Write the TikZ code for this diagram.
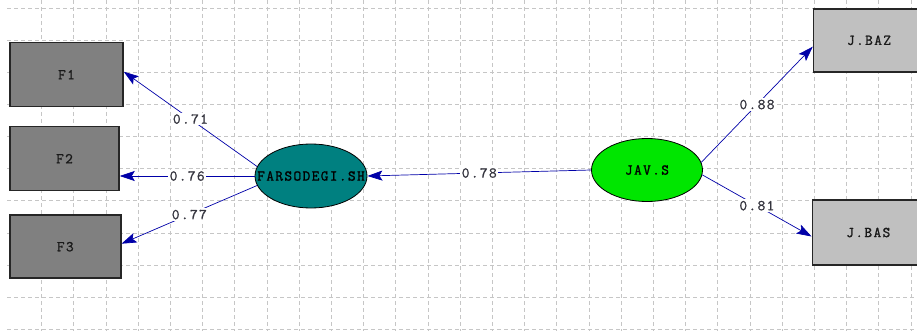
\documentclass[tikz,border=0pt]{standalone}
\usepackage{fontspec}
\newfontfamily\diagmono[LetterSpace=9,FakeBold=1.2]{Latin Modern Mono}
\usetikzlibrary{arrows.meta,shapes.geometric,calc}
\definecolor{gridgray}{HTML}{C6C6C6}
\definecolor{obsdarkfill}{HTML}{808080}
\definecolor{obslightfill}{HTML}{C0C0C0}
\definecolor{latteal}{HTML}{008080}
\definecolor{latgreen}{HTML}{00E600}
\definecolor{pathblue}{HTML}{0000A8}
\definecolor{coefgray}{HTML}{34343E}
\tikzset{
  gridline/.style={draw=gridgray, line width=0.9pt, dash pattern=on 4pt off 3pt},
  obsbox/.style={rectangle, draw=black!85, line width=1.5pt, inner sep=0pt,
    font=\diagmono\fontsize{15}{16}\selectfont, text=black!90},
  latent/.style={ellipse, draw=black, line width=0.8pt, inner sep=0pt,
    minimum width=112pt, minimum height=64pt},
  lattext/.style={font=\diagmono\fontsize{15}{16}\selectfont, text=black, inner sep=0pt},
  loading/.style={draw=pathblue, line width=0.7pt,
    -{Stealth[length=15pt,width=10pt,inset=3pt]}},
  coef/.style={fill=white, inner sep=1.5pt,
    font=\diagmono\fontsize{15}{16}\selectfont, text=coefgray}
}
\begin{document}
\begin{tikzpicture}[x=1pt,y=-1pt]
\useasboundingbox (0,0) rectangle (917,331);
\fill[white] (0,0) rectangle (917,331);

% background grid
\foreach \k in {0,...,27}
  \draw[gridline] ({41.7+32.2*\k},0) -- ({41.7+32.2*\k},331);
\foreach \k in {0,...,10}
  \draw[gridline] (7,{8.3+32.1*\k}) -- (917,{8.3+32.1*\k});

% observed indicators
\node[obsbox, fill=obsdarkfill, minimum width=113pt, minimum height=64pt] (F1) at (66.5,74.7) {F1};
\node[obsbox, fill=obsdarkfill, minimum width=109pt, minimum height=64pt] (F2) at (64.5,158.7) {F2};
\node[obsbox, fill=obsdarkfill, minimum width=111pt, minimum height=63pt] (F3) at (65.3,246.7) {F3};
\node[obsbox, fill=obslightfill, minimum width=111pt, minimum height=63pt] (JBAZ) at (869,40.3) {J.BAZ};
\node[obsbox, fill=obslightfill, minimum width=112pt, minimum height=65pt] (JBAS) at (868.3,232.5) {J.BAS};

% latent variables
\node[latent, fill=latteal] (FS) at (311,176) {};
\node[lattext] at (FS) {FARSODEGI.SH};
\node[latent, fill=latgreen, minimum width=111pt, minimum height=63pt] (JAV) at (647,170) {};
\node[lattext] at (JAV) {JAV.S};

% paths with standardized coefficients
\draw[loading] (FS.170) -- node[coef] {0.71} ($(F1.east)+(0,-3)$);
\draw[loading] (FS.west) -- node[coef] {0.76} (F2.east |- FS.west);
\draw[loading] (FS.190) -- node[coef] {0.77} ($(F3.east)+(0,-3)$);
\draw[loading] (JAV.west) -- node[coef] {0.78} (FS.east);
\draw[loading] (JAV.8) -- node[coef] {0.88} ($(JBAZ.west)+(0,6.4)$);
\draw[loading] (JAV.-5) -- node[coef] {0.81} ($(JBAS.west)+(0,4)$);
\end{tikzpicture}
\end{document}
